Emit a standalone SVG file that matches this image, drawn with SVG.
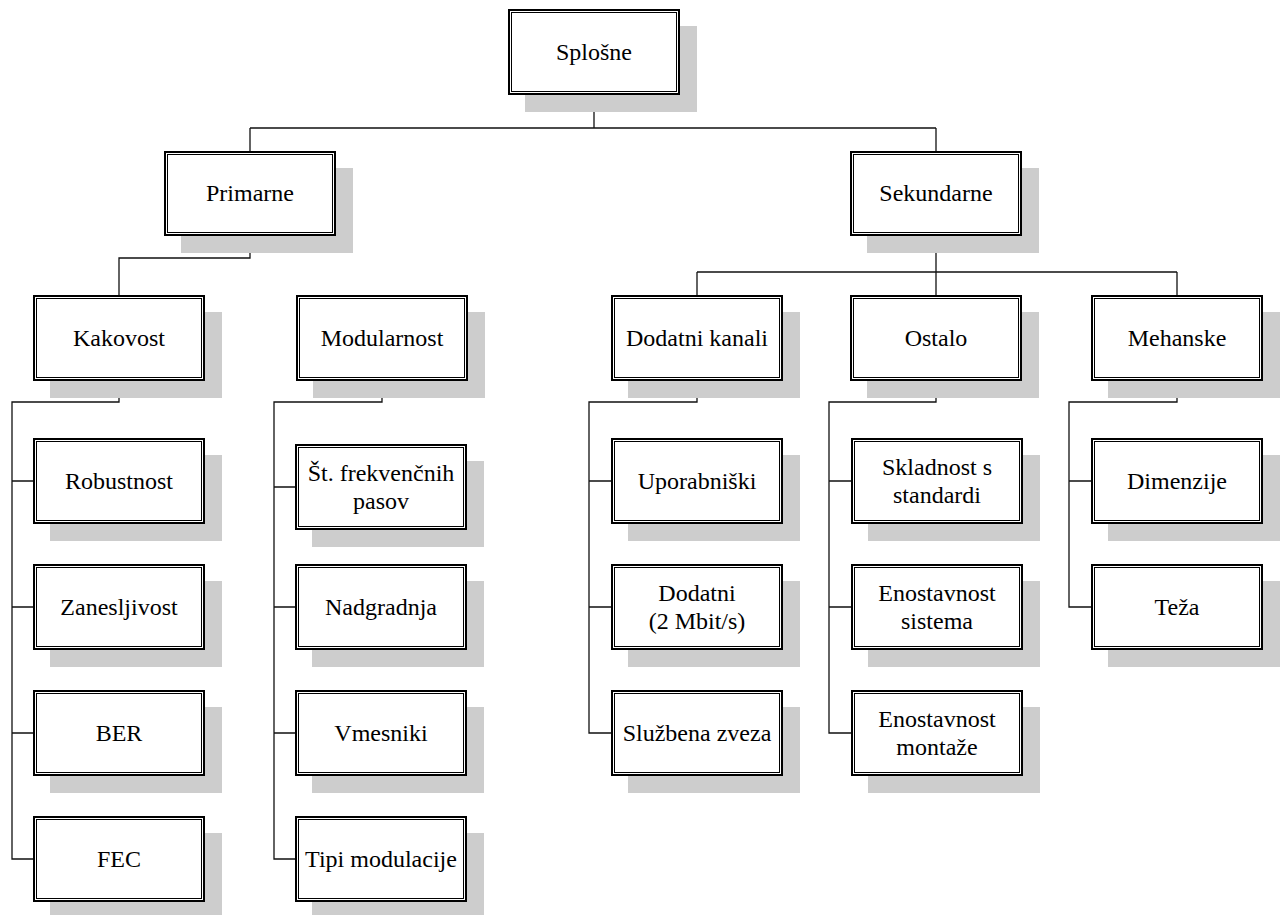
<svg xmlns="http://www.w3.org/2000/svg" width="1282" height="915" viewBox="0 0 1282 915">
<style>
.sh{fill:#cdcdcd}
.bo{fill:#fff;stroke:#000;stroke-width:2}
.bi{fill:none;stroke:#000;stroke-width:1}
.c{fill:none;stroke:#111;stroke-width:1.3}
</style>
<rect width="1282" height="915" fill="#fff"/>
<g id="connectors">
<path class="c" d="M594 95V128M250 128H936M250 128V151M936 128V151"/>
<path class="c" d="M250 236V258H119V295"/>
<path class="c" d="M936 236V272M697 272H1177M697 272V295M936 272V295M1177 272V295"/>
<path class="c" d="M119 381V402H12V859H33M12 481H33M12 607H33M12 733H33"/>
<path class="c" d="M382 381V402H274V859H295M274 487H295M274 607H295M274 733H295"/>
<path class="c" d="M697 381V402H589V733H611M589 481H611M589 607H611"/>
<path class="c" d="M936 381V402H829V733H851M829 481H851M829 607H851"/>
<path class="c" d="M1177 381V402H1069V607H1091M1069 481H1091"/>
</g>
<g id="n-splosne"><rect class="sh" x="525" y="26" width="172" height="86"/><rect class="bo" x="509" y="10" width="170" height="84"/><rect class="bi" x="511.5" y="12.5" width="165" height="79"/><text style="font-family:'Liberation Serif',serif;font-size:24px;text-anchor:middle" x="594" y="60">Splošne</text></g>
<g id="n-primarne"><rect class="sh" x="181" y="168" width="172" height="85"/><rect class="bo" x="165" y="152" width="170" height="83"/><rect class="bi" x="167.5" y="154.5" width="165" height="78"/><text style="font-family:'Liberation Serif',serif;font-size:24px;text-anchor:middle" x="250" y="201">Primarne</text></g>
<g id="n-sekundarne"><rect class="sh" x="867" y="168" width="172" height="85"/><rect class="bo" x="851" y="152" width="170" height="83"/><rect class="bi" x="853.5" y="154.5" width="165" height="78"/><text style="font-family:'Liberation Serif',serif;font-size:24px;text-anchor:middle" x="936" y="201">Sekundarne</text></g>
<g id="n-kakovost"><rect class="sh" x="50" y="312" width="172" height="86"/><rect class="bo" x="34" y="296" width="170" height="84"/><rect class="bi" x="36.5" y="298.5" width="165" height="79"/><text style="font-family:'Liberation Serif',serif;font-size:24px;text-anchor:middle" x="119" y="346">Kakovost</text></g>
<g id="n-modularnost"><rect class="sh" x="313" y="312" width="172" height="86"/><rect class="bo" x="297" y="296" width="170" height="84"/><rect class="bi" x="299.5" y="298.5" width="165" height="79"/><text style="font-family:'Liberation Serif',serif;font-size:24px;text-anchor:middle" x="382" y="346">Modularnost</text></g>
<g id="n-dodatni-kanali"><rect class="sh" x="628" y="312" width="172" height="86"/><rect class="bo" x="612" y="296" width="170" height="84"/><rect class="bi" x="614.5" y="298.5" width="165" height="79"/><text style="font-family:'Liberation Serif',serif;font-size:24px;text-anchor:middle" x="697" y="346">Dodatni kanali</text></g>
<g id="n-ostalo"><rect class="sh" x="867" y="312" width="172" height="86"/><rect class="bo" x="851" y="296" width="170" height="84"/><rect class="bi" x="853.5" y="298.5" width="165" height="79"/><text style="font-family:'Liberation Serif',serif;font-size:24px;text-anchor:middle" x="936" y="346">Ostalo</text></g>
<g id="n-mehanske"><rect class="sh" x="1108" y="312" width="172" height="86"/><rect class="bo" x="1092" y="296" width="170" height="84"/><rect class="bi" x="1094.5" y="298.5" width="165" height="79"/><text style="font-family:'Liberation Serif',serif;font-size:24px;text-anchor:middle" x="1177" y="346">Mehanske</text></g>
<g id="n-robustnost"><rect class="sh" x="50" y="455" width="172" height="86"/><rect class="bo" x="34" y="439" width="170" height="84"/><rect class="bi" x="36.5" y="441.5" width="165" height="79"/><text style="font-family:'Liberation Serif',serif;font-size:24px;text-anchor:middle" x="119" y="489">Robustnost</text></g>
<g id="n-zanesljivost"><rect class="sh" x="50" y="581" width="172" height="86"/><rect class="bo" x="34" y="565" width="170" height="84"/><rect class="bi" x="36.5" y="567.5" width="165" height="79"/><text style="font-family:'Liberation Serif',serif;font-size:24px;text-anchor:middle" x="119" y="615">Zanesljivost</text></g>
<g id="n-ber"><rect class="sh" x="50" y="707" width="172" height="86"/><rect class="bo" x="34" y="691" width="170" height="84"/><rect class="bi" x="36.5" y="693.5" width="165" height="79"/><text style="font-family:'Liberation Serif',serif;font-size:24px;text-anchor:middle" x="119" y="741">BER</text></g>
<g id="n-fec"><rect class="sh" x="50" y="833" width="172" height="86"/><rect class="bo" x="34" y="817" width="170" height="84"/><rect class="bi" x="36.5" y="819.5" width="165" height="79"/><text style="font-family:'Liberation Serif',serif;font-size:24px;text-anchor:middle" x="119" y="867">FEC</text></g>
<g id="n-st-frekvencnih"><rect class="sh" x="312" y="461" width="172" height="86"/><rect class="bo" x="296" y="445" width="170" height="84"/><rect class="bi" x="298.5" y="447.5" width="165" height="79"/><text style="font-family:'Liberation Serif',serif;font-size:24px;text-anchor:middle" x="381" y="481">Št. frekvenčnih</text><text style="font-family:'Liberation Serif',serif;font-size:24px;text-anchor:middle" x="381" y="509">pasov</text></g>
<g id="n-nadgradnja"><rect class="sh" x="312" y="581" width="172" height="86"/><rect class="bo" x="296" y="565" width="170" height="84"/><rect class="bi" x="298.5" y="567.5" width="165" height="79"/><text style="font-family:'Liberation Serif',serif;font-size:24px;text-anchor:middle" x="381" y="615">Nadgradnja</text></g>
<g id="n-vmesniki"><rect class="sh" x="312" y="707" width="172" height="86"/><rect class="bo" x="296" y="691" width="170" height="84"/><rect class="bi" x="298.5" y="693.5" width="165" height="79"/><text style="font-family:'Liberation Serif',serif;font-size:24px;text-anchor:middle" x="381" y="741">Vmesniki</text></g>
<g id="n-tipi-modulacije"><rect class="sh" x="312" y="833" width="172" height="86"/><rect class="bo" x="296" y="817" width="170" height="84"/><rect class="bi" x="298.5" y="819.5" width="165" height="79"/><text style="font-family:'Liberation Serif',serif;font-size:24px;text-anchor:middle" x="381" y="867">Tipi modulacije</text></g>
<g id="n-uporabniski"><rect class="sh" x="628" y="455" width="172" height="86"/><rect class="bo" x="612" y="439" width="170" height="84"/><rect class="bi" x="614.5" y="441.5" width="165" height="79"/><text style="font-family:'Liberation Serif',serif;font-size:24px;text-anchor:middle" x="697" y="489">Uporabniški</text></g>
<g id="n-dodatni-2mbit"><rect class="sh" x="628" y="581" width="172" height="86"/><rect class="bo" x="612" y="565" width="170" height="84"/><rect class="bi" x="614.5" y="567.5" width="165" height="79"/><text style="font-family:'Liberation Serif',serif;font-size:24px;text-anchor:middle" x="697" y="601">Dodatni</text><text style="font-family:'Liberation Serif',serif;font-size:24px;text-anchor:middle" x="697" y="629">(2 Mbit/s)</text></g>
<g id="n-sluzbena-zveza"><rect class="sh" x="628" y="707" width="172" height="86"/><rect class="bo" x="612" y="691" width="170" height="84"/><rect class="bi" x="614.5" y="693.5" width="165" height="79"/><text style="font-family:'Liberation Serif',serif;font-size:24px;text-anchor:middle" x="697" y="741">Službena zveza</text></g>
<g id="n-skladnost"><rect class="sh" x="868" y="455" width="172" height="86"/><rect class="bo" x="852" y="439" width="170" height="84"/><rect class="bi" x="854.5" y="441.5" width="165" height="79"/><text style="font-family:'Liberation Serif',serif;font-size:24px;text-anchor:middle" x="937" y="475">Skladnost s</text><text style="font-family:'Liberation Serif',serif;font-size:24px;text-anchor:middle" x="937" y="503">standardi</text></g>
<g id="n-enostavnost-sistema"><rect class="sh" x="868" y="581" width="172" height="86"/><rect class="bo" x="852" y="565" width="170" height="84"/><rect class="bi" x="854.5" y="567.5" width="165" height="79"/><text style="font-family:'Liberation Serif',serif;font-size:24px;text-anchor:middle" x="937" y="601">Enostavnost</text><text style="font-family:'Liberation Serif',serif;font-size:24px;text-anchor:middle" x="937" y="629">sistema</text></g>
<g id="n-enostavnost-montaze"><rect class="sh" x="868" y="707" width="172" height="86"/><rect class="bo" x="852" y="691" width="170" height="84"/><rect class="bi" x="854.5" y="693.5" width="165" height="79"/><text style="font-family:'Liberation Serif',serif;font-size:24px;text-anchor:middle" x="937" y="727">Enostavnost</text><text style="font-family:'Liberation Serif',serif;font-size:24px;text-anchor:middle" x="937" y="755">montaže</text></g>
<g id="n-dimenzije"><rect class="sh" x="1108" y="455" width="172" height="86"/><rect class="bo" x="1092" y="439" width="170" height="84"/><rect class="bi" x="1094.5" y="441.5" width="165" height="79"/><text style="font-family:'Liberation Serif',serif;font-size:24px;text-anchor:middle" x="1177" y="489">Dimenzije</text></g>
<g id="n-teza"><rect class="sh" x="1108" y="581" width="172" height="86"/><rect class="bo" x="1092" y="565" width="170" height="84"/><rect class="bi" x="1094.5" y="567.5" width="165" height="79"/><text style="font-family:'Liberation Serif',serif;font-size:24px;text-anchor:middle" x="1177" y="615">Teža</text></g>
</svg>
